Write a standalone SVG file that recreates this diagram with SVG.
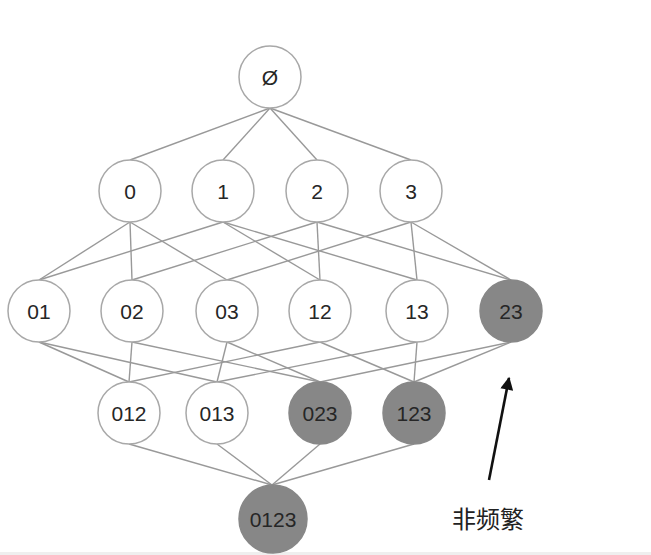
<svg xmlns="http://www.w3.org/2000/svg" width="651" height="555" viewBox="0 0 651 555">
<style>
.n{fill:#fff;stroke:#a8a8a8;stroke-width:1.5}
.g{fill:#878787;stroke:#878787;stroke-width:1.5}
.t{font-family:"Liberation Sans",Arial,sans-serif;font-size:21px;fill:#262626;text-anchor:middle;dominant-baseline:central}
.e line{stroke:#999;stroke-width:1.4}
</style>
<defs>
<marker id="ah" viewBox="0 0 10 10" refX="9" refY="5" markerWidth="6" markerHeight="5" orient="auto-start-reverse" markerUnits="strokeWidth">
<path d="M0,0 L10,5 L0,10 z" fill="#111"/>
</marker>
</defs>
<rect width="651" height="555" fill="#fff"/>
<rect x="0" y="552" width="651" height="3" fill="#efefef"/>
<g id="edges" class="e">
<line x1="270" y1="108" x2="130" y2="160"/>
<line x1="270" y1="108" x2="223" y2="160"/>
<line x1="270" y1="108" x2="317" y2="160"/>
<line x1="270" y1="108" x2="411" y2="160"/>
<line x1="130" y1="222" x2="39" y2="280"/>
<line x1="130" y1="222" x2="132" y2="280"/>
<line x1="130" y1="222" x2="227" y2="280"/>
<line x1="223" y1="222" x2="39" y2="280"/>
<line x1="223" y1="222" x2="320" y2="280"/>
<line x1="223" y1="222" x2="417" y2="280"/>
<line x1="317" y1="222" x2="132" y2="280"/>
<line x1="317" y1="222" x2="320" y2="280"/>
<line x1="317" y1="222" x2="511" y2="280"/>
<line x1="411" y1="222" x2="227" y2="280"/>
<line x1="411" y1="222" x2="417" y2="280"/>
<line x1="411" y1="222" x2="511" y2="280"/>
<line x1="39" y1="342" x2="129" y2="382"/>
<line x1="132" y1="342" x2="129" y2="382"/>
<line x1="320" y1="342" x2="129" y2="382"/>
<line x1="39" y1="342" x2="217" y2="382"/>
<line x1="227" y1="342" x2="217" y2="382"/>
<line x1="417" y1="342" x2="217" y2="382"/>
<line x1="132" y1="342" x2="320" y2="382"/>
<line x1="227" y1="342" x2="320" y2="382"/>
<line x1="511" y1="342" x2="320" y2="382"/>
<line x1="320" y1="342" x2="414" y2="382"/>
<line x1="417" y1="342" x2="414" y2="382"/>
<line x1="511" y1="342" x2="414" y2="382"/>
<line x1="129" y1="444" x2="272" y2="485"/>
<line x1="217" y1="444" x2="272" y2="485"/>
<line x1="320" y1="444" x2="272" y2="485"/>
<line x1="414" y1="444" x2="272" y2="485"/>
<line x1="489" y1="480" x2="509" y2="378" style="stroke:#111;stroke-width:2.6" marker-end="url(#ah)"/>
</g>
<g id="n_empty"><circle class="n" cx="270" cy="77" r="31"/><text class="t" x="270" y="77">Ø</text></g>
<g id="n0"><circle class="n" cx="130" cy="191" r="31"/><text class="t" x="130" y="191">0</text></g>
<g id="n1"><circle class="n" cx="223" cy="191" r="31"/><text class="t" x="223" y="191">1</text></g>
<g id="n2"><circle class="n" cx="317" cy="191" r="31"/><text class="t" x="317" y="191">2</text></g>
<g id="n3"><circle class="n" cx="411" cy="191" r="31"/><text class="t" x="411" y="191">3</text></g>
<g id="n01"><circle class="n" cx="39" cy="311" r="31"/><text class="t" x="39" y="311">01</text></g>
<g id="n02"><circle class="n" cx="132" cy="311" r="31"/><text class="t" x="132" y="311">02</text></g>
<g id="n03"><circle class="n" cx="227" cy="311" r="31"/><text class="t" x="227" y="311">03</text></g>
<g id="n12"><circle class="n" cx="320" cy="311" r="31"/><text class="t" x="320" y="311">12</text></g>
<g id="n13"><circle class="n" cx="417" cy="311" r="31"/><text class="t" x="417" y="311">13</text></g>
<g id="n23"><circle class="g" cx="511" cy="311" r="31"/><text class="t" x="511" y="311">23</text></g>
<g id="n012"><circle class="n" cx="129" cy="413" r="31"/><text class="t" x="129" y="413">012</text></g>
<g id="n013"><circle class="n" cx="217" cy="413" r="31"/><text class="t" x="217" y="413">013</text></g>
<g id="n023"><circle class="g" cx="320" cy="413" r="31"/><text class="t" x="320" y="413">023</text></g>
<g id="n123"><circle class="g" cx="414" cy="413" r="31"/><text class="t" x="414" y="413">123</text></g>
<g id="n0123"><circle class="g" cx="273" cy="519" r="34"/><text class="t" x="273" y="519">0123</text></g>
<g id="label"><text x="452" y="528" style="font-family:'Noto Sans CJK SC',sans-serif;font-size:24px;fill:#222">非频繁</text></g>
</svg>
